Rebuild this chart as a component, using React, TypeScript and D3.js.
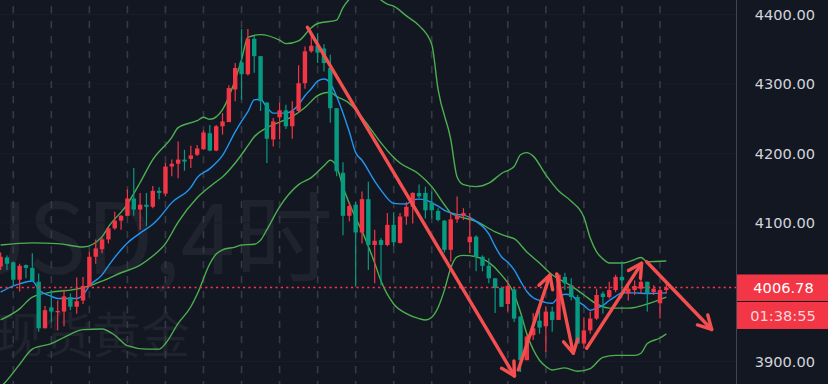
import React from "react";
import * as d3 from "d3";

// ---- Data (4H candles, XAUUSD) ----
const opens = [4037,4050,4043,4018,4039,4035,4015,3948,3978,3971,3972,3993,3979,3988,4008,4051,4062,4076,4092,4103,4110,4135,4119,4126,4123,4146,4142,4181,4185,4191,4192,4198,4206,4229,4204,4239,4245,4292,4331,4314,4365,4340,4273,4220,4252,4262,4239,4261,4301,4347,4355,4351,4323,4265,4172,4110,4126,4086,4134,4068,4075,4068,4097,4071,4109,4123,4143,4143,4129,4117,4103,4061,4105,4110,4072,4080,4051,4038,4020,4006,3983,4004,3965,3902,3938,3959,3951,3972,3960,4022,4010,3993,3926,3945,3962,3998,3993,4003,4022,3998,4003,4005,4015,4000,3984,4003];
const highs = [4057,4053,4044,4041,4040,4056,4027,3980,4003,3988,4004,3998,4021,4022,4058,4076,4080,4094,4116,4111,4148,4179,4143,4143,4153,4151,4186,4191,4217,4205,4211,4212,4233,4241,4241,4258,4298,4330,4379,4379,4369,4340,4274,4251,4273,4270,4275,4327,4354,4372,4373,4357,4342,4265,4187,4130,4130,4145,4159,4090,4078,4114,4115,4114,4130,4144,4155,4152,4145,4121,4104,4115,4138,4121,4114,4082,4053,4049,4020,4008,4017,4006,3965,3938,3970,3975,3979,3979,4027,4028,4020,3996,3964,3972,4005,4001,4015,4025,4044,4014,4017,4027,4015,4010,4008,4012];
const lows = [4032,4032,4010,4001,4020,4016,3943,3948,3957,3945,3951,3974,3969,3983,4008,4041,4056,4070,4090,4090,4110,4110,4090,4095,4121,4134,4138,4167,4164,4175,4179,4196,4205,4203,4203,4227,4245,4275,4277,4312,4316,4261,4186,4210,4220,4235,4221,4258,4293,4345,4330,4318,4244,4167,4082,4102,4008,4070,4032,4013,4010,4066,4066,4070,4097,4099,4135,4106,4106,4102,4057,4044,4100,4104,4056,4030,4030,4013,3970,3979,3972,3957,3885,3902,3931,3940,3914,3943,3960,4003,3988,3926,3919,3940,3960,3969,3991,4000,4000,3988,3996,3998,3972,3996,3962,3998];
const closes = [4051,4041,4018,4038,4035,4016,3948,3974,3972,3973,3994,3979,3987,4009,4051,4063,4076,4092,4103,4110,4135,4119,4126,4123,4146,4143,4181,4185,4191,4188,4197,4207,4230,4204,4239,4246,4294,4323,4314,4365,4340,4275,4221,4246,4262,4239,4261,4301,4347,4355,4345,4330,4265,4174,4110,4124,4086,4134,4068,4074,4068,4097,4072,4109,4123,4143,4138,4118,4118,4104,4061,4105,4110,4114,4080,4051,4038,4020,4006,3979,4009,3962,3902,3936,3948,3949,3972,3960,4025,4013,3993,3926,3945,3962,3996,3993,4003,4022,4017,4005,4009,4015,3998,4005,4003,4006.78];

// Bollinger bands & MA: [candle index, price]
const upperBand: [number, number][] = [[0,4068],[5,4071],[9,4070],[13,4065],[16,4080],[17,4094],[20,4127],[22,4158],[24,4191],[27,4223],[28,4237],[31,4247],[32,4252],[33,4249],[35,4263],[37,4306],[38,4335],[39,4367],[41,4371],[44,4363],[45,4358],[47,4362],[49,4381],[50,4387],[53,4392],[54,4410],[55,4422],[57,4432],[58,4436],[59,4428],[61,4415],[62,4412],[64,4398],[66,4384],[68,4357],[69,4292],[71,4220],[72,4166],[73,4155],[75,4152],[77,4157],[79,4171],[81,4181],[82,4198],[83,4201],[84,4196],[86,4169],[88,4146],[90,4131],[92,4108],[93,4078],[94,4058],[95,4048],[96,4042],[98,4042],[100,4047],[101,4050],[102,4044],[105,4045]];
const middleBand: [number, number][] = [[0,3960],[3,3976],[5,3993],[8,4000],[11,4003],[14,4009],[16,4016],[19,4028],[22,4039],[24,4052],[26,4070],[28,4101],[31,4136],[34,4159],[35,4166],[37,4186],[39,4211],[40,4224],[42,4237],[44,4245],[46,4253],[48,4266],[50,4283],[51,4287],[52,4288],[53,4282],[55,4272],[56,4263],[58,4240],[60,4215],[62,4194],[63,4186],[66,4170],[68,4152],[70,4126],[71,4114],[72,4110],[75,4102],[78,4087],[80,4080],[81,4077],[83,4058],[85,4042],[87,4025],[90,4009],[92,3996],[94,3983],[96,3977],[99,3977],[100,3978],[102,3983],[105,3993]];
const lowerBand: [number, number][] = [[0,3863],[1,3873],[3,3896],[5,3918],[8,3926],[10,3935],[13,3946],[16,3947],[18,3938],[20,3923],[23,3918],[25,3918],[26,3926],[28,3955],[30,3979],[31,3997],[33,4041],[34,4055],[35,4061],[37,4065],[38,4068],[40,4069],[41,4075],[42,4090],[44,4123],[47,4155],[49,4165],[51,4182],[52,4190],[53,4181],[54,4152],[56,4107],[57,4088],[59,4042],[60,4016],[62,3983],[64,3969],[66,3962],[67,3960],[68,3964],[69,3978],[70,4003],[71,4035],[72,4051],[73,4053],[75,4051],[77,4043],[79,4025],[81,3997],[82,3971],[83,3940],[85,3902],[86,3893],[87,3888],[89,3891],[91,3886],[93,3890],[95,3906],[97,3909],[100,3909],[101,3912],[102,3926],[104,3934],[105,3940]];
const maLine: [number, number][] = [[0,4000],[2,4009],[3,4012],[5,4016],[6,4004],[8,3994],[9,3991],[12,3991],[13,3996],[14,4009],[16,4025],[17,4038],[20,4071],[22,4085],[24,4098],[25,4107],[27,4129],[30,4151],[31,4165],[33,4178],[35,4197],[37,4231],[38,4246],[39,4260],[40,4277],[41,4278],[42,4266],[43,4258],[45,4258],[47,4270],[48,4283],[49,4293],[50,4304],[51,4307],[52,4301],[53,4282],[55,4231],[56,4201],[57,4190],[59,4160],[60,4147],[62,4128],[64,4127],[65,4133],[66,4134],[67,4133],[68,4129],[69,4124],[70,4118],[72,4112],[73,4111],[75,4102],[77,4084],[78,4066],[79,4051],[80,4043],[81,4032],[82,4016],[83,4001],[84,3992],[85,3988],[86,3985],[87,3984],[88,3993],[89,3997],[90,3996],[91,3987],[92,3981],[93,3974],[94,3977],[95,3981],[96,3988],[97,3994],[98,3999],[100,3999],[102,3998],[105,3999]];

// Drawn arrows: [startIndex, startPrice, endIndex, endPrice]
const arrows: [number, number, number, number][] = [
  [48.4, 4381.6, 81.05, 3879.3],
  [81.65, 3887.9, 86.65, 4024.7],
  [87.7, 4026.2, 90.33, 3912],
  [92.44, 3919.2, 101.1, 4041.6],
  [101.9, 4043.9, 112.16, 3946.3],
];

const priceTicks = [4400, 4300, 4200, 4100, 3900];
const lastPrice = 4006.78;
const countdown = "01:38:55";
const watermark1 = "XAUUSD,4时";
const watermark2 = "现货黄金";

const W = 828, H = 384, PLOT_R = 736;
const UP = "#f23645", DOWN = "#089981", BG = "#131722";

export default function App() {
  const x = d3.scaleLinear().domain([0, 105]).range([0.62, 0.62 + 6.34 * 105]);
  const y = d3.scaleLinear().domain([4400, 3900]).range([14.5, 361.6]);
  const line = d3.line<[number, number]>().x(d => x(d[0])).y(d => y(d[1])).curve(d3.curveMonotoneX);
  const bw = 4.4;
  const gridIdx = d3.range(2, 106, 6);

  const arrowEls = arrows.map((a, k) => {
    const x1 = x(a[0]), y1 = y(a[1]), x2 = x(a[2]), y2 = y(a[3]);
    const ang = Math.atan2(y2 - y1, x2 - x1);
    const L = 15, sp = 0.5;
    const h1 = [x2 - L * Math.cos(ang - sp), y2 - L * Math.sin(ang - sp)];
    const h2 = [x2 - L * Math.cos(ang + sp), y2 - L * Math.sin(ang + sp)];
    return (
      <g key={k} stroke="#f44f4f" strokeWidth={3.4} strokeLinecap="round" fill="none">
        <line x1={x1} y1={y1} x2={x2} y2={y2} />
        <polyline points={`${h1[0]},${h1[1]} ${x2},${y2} ${h2[0]},${h2[1]}`} strokeLinejoin="round" />
      </g>
    );
  });

  return (
    <svg width={W} height={H} style={{ position: "absolute", left: 0, top: 0, background: BG }}>
      <rect width={W} height={H} fill={BG} />
      <defs>
        <clipPath id="plot"><rect x={0} y={0} width={PLOT_R} height={H} /></clipPath>
      </defs>
      <g clipPath="url(#plot)">
        {/* watermark */}
        <text x={333} y={274} textAnchor="end" fontSize={98} fill="#1f232e" fontFamily="'Liberation Sans Narrow', 'Noto Sans CJK SC', sans-serif">{watermark1}</text>
        <text x={190} y={353} textAnchor="end" fontSize={49} fill="#1f232e" fontFamily="'Noto Sans CJK SC', sans-serif">{watermark2}</text>
        {/* grid */}
        {priceTicks.map(t => (
          <line key={t} x1={0} x2={PLOT_R} y1={y(t)} y2={y(t)} stroke="#191d28" strokeWidth={1} />
        ))}
        {gridIdx.map(i => (
          <line key={i} x1={x(i)} x2={x(i)} y1={6} y2={H} stroke="#363a45" strokeWidth={1.6} strokeDasharray="7.3,7.7" />
        ))}
        {/* bands */}
        <path d={line(upperBand) || ""} fill="none" stroke="#4caf50" strokeWidth={1.4} />
        <path d={line(middleBand) || ""} fill="none" stroke="#4caf50" strokeWidth={1.4} />
        <path d={line(lowerBand) || ""} fill="none" stroke="#4caf50" strokeWidth={1.4} />
        <path d={line(maLine) || ""} fill="none" stroke="#2196f3" strokeWidth={1.4} />
        {/* candles */}
        {opens.map((o, i) => {
          const c = closes[i];
          const col = c >= o ? UP : DOWN;
          const cx = x(i);
          const top = y(Math.max(o, c)), bot = y(Math.min(o, c));
          return (
            <g key={i}>
              <line x1={cx} x2={cx} y1={y(highs[i])} y2={y(lows[i])} stroke={col} strokeWidth={1.2} />
              <rect x={cx - bw / 2} y={top} width={bw} height={Math.max(1, bot - top)} fill={col} />
            </g>
          );
        })}
        {/* last price line */}
        <line x1={0} x2={PLOT_R} y1={y(lastPrice)} y2={y(lastPrice)} stroke={UP} strokeWidth={1.6} strokeDasharray="2.2,3.2" />
        {arrowEls}
      </g>
      {/* right axis */}
      <rect x={PLOT_R} y={0} width={W - PLOT_R} height={H} fill={BG} />
      <line x1={PLOT_R + 0.5} x2={PLOT_R + 0.5} y1={0} y2={H} stroke="#434651" strokeWidth={1} />
      {priceTicks.map(t => (
        <text key={t} x={815} y={y(t)} dy="0.36em" textAnchor="end" fontSize={14.6} fill="#d1d4dc" fontFamily="'DejaVu Sans', sans-serif">{t.toFixed(2)}</text>
      ))}
      <rect x={PLOT_R + 1} y={y(lastPrice) - 13} width={W - PLOT_R - 1} height={26.5} fill={UP} />
      <rect x={PLOT_R + 1} y={y(lastPrice) + 14.5} width={W - PLOT_R - 1} height={27} fill={UP} />
      <text x={783.5} y={y(lastPrice)} dy="0.36em" textAnchor="middle" fontSize={14.6} fill="#ffffff" fontFamily="'DejaVu Sans', sans-serif">{lastPrice.toFixed(2)}</text>
      <text x={783} y={y(lastPrice) + 28} dy="0.36em" textAnchor="middle" fontSize={14.6} fill="#fbd3d7" fontFamily="'DejaVu Sans', sans-serif">{countdown}</text>
    </svg>
  );
}
